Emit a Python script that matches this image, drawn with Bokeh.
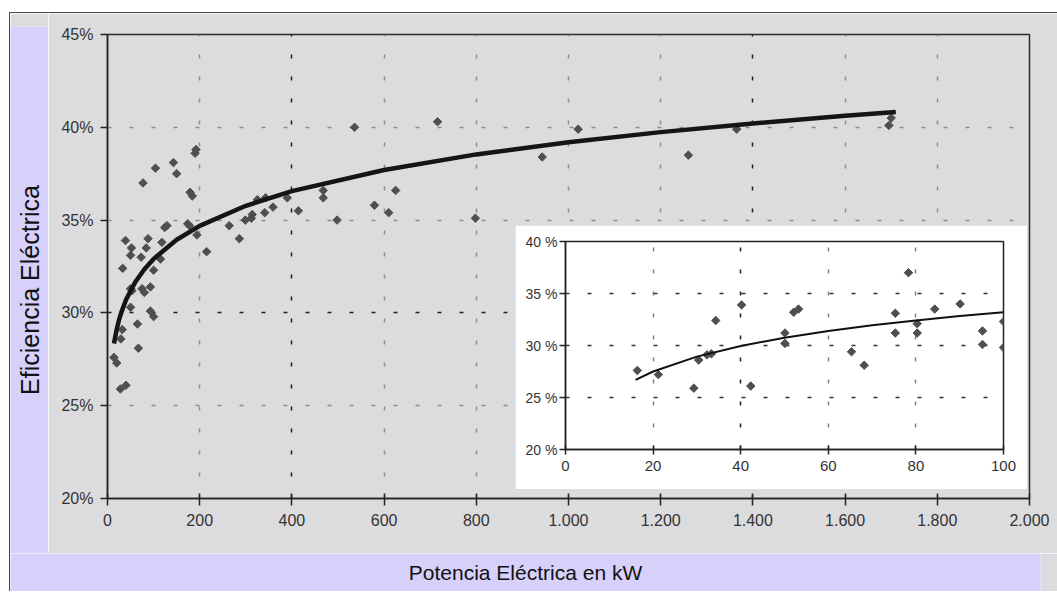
from math import pi
from bokeh.plotting import figure
from bokeh.models import FixedTicker, Grid, Spacer
from bokeh.layouts import column, row
from bokeh.embed import file_html
from bokeh.resources import INLINE
from bokeh.core.properties import value

# ---------------- data ----------------
x_label = "Potencia Eléctrica en kW"
y_label = "Eficiencia Eléctrica"

x_ticks = [0, 200, 400, 600, 800, 1000, 1200, 1400, 1600, 1800, 2000]
x_tick_labels = ["0", "200", "400", "600", "800", "1.000", "1.200", "1.400", "1.600", "1.800", "2.000"]
y_ticks = [20, 25, 30, 35, 40, 45]
y_tick_labels = ["20%", "25%", "30%", "35%", "40%", "45%"]

main_x = [14, 20, 28, 40, 29, 32, 33, 39, 52, 50, 73, 88, 84, 118, 124, 129, 174, 178, 194, 215,
          264, 286, 50, 53, 75, 80, 93, 50, 93, 100, 65, 67, 77, 104, 143, 150, 190, 192, 179, 184,
          115, 100, 299, 312, 314, 325, 343, 341, 359, 390, 414, 468, 468, 498, 536, 579, 610, 625,
          716, 798, 943, 1021, 1260, 1365, 1700, 1695]
main_y = [27.6, 27.3, 25.9, 26.1, 28.6, 29.1, 32.4, 33.9, 33.5, 33.1, 33.0, 34.0, 33.5, 33.8, 34.6,
          34.7, 34.8, 34.7, 34.2, 33.3, 34.7, 34.0, 31.3, 31.2, 31.3, 31.1, 31.4, 30.3, 30.1, 29.8,
          29.4, 28.1, 37.0, 37.8, 38.1, 37.5, 38.6, 38.8, 36.5, 36.3, 32.9, 32.3, 35.0, 35.1, 35.3,
          36.1, 36.2, 35.4, 35.7, 36.2, 35.5, 36.6, 36.2, 35.0, 40.0, 35.8, 35.4, 36.6, 40.3, 35.1,
          38.4, 39.9, 38.5, 39.9, 40.5, 40.1]

trend_x = [14, 20, 25, 30, 40, 60, 80, 100, 150, 200, 300, 400, 600, 800, 1000, 1200, 1400, 1600, 1710]
trend_y = [28.35, 29.12, 29.62, 30.03, 30.70, 31.65, 32.35, 32.91, 33.94, 34.69, 35.77, 36.56, 37.70,
           38.54, 39.19, 39.74, 40.21, 40.62, 40.82]

inset_x_ticks = [0, 20, 40, 60, 80, 100]
inset_x_tick_labels = ["0", "20", "40", "60", "80", "100"]
inset_y_ticks = [20, 25, 30, 35, 40]
inset_y_tick_labels = ["20 %", "25 %", "30 %", "35 %", "40 %"]

inset_x = [16.4, 21.2, 29.3, 30.4, 32.3, 33.3, 34.3, 40.2, 42.3, 50.1, 50.1, 52.1, 53.2, 65.3, 68.2,
           75.3, 75.3, 78.3, 80.3, 80.3, 84.3, 90.1, 95.2, 95.2, 100.0, 100.0]
inset_y = [27.6, 27.2, 25.9, 28.6, 29.1, 29.2, 32.4, 33.9, 26.1, 31.2, 30.2, 33.2, 33.5, 29.4, 28.1,
           33.1, 31.2, 37.0, 32.1, 31.2, 33.5, 34.0, 31.4, 30.1, 32.3, 29.8]

inset_trend_x = [16, 20, 30, 40, 50, 60, 70, 80, 90, 100]
inset_trend_y = [26.70, 27.50, 28.93, 29.95, 30.75, 31.39, 31.94, 32.41, 32.83, 33.20]

# ---------------- style ----------------
GRAY = "#dcdcde"
LAV = "#d7d0fa"
PT = "#4f4f4f"
FONT = "Liberation Sans"
dark_x_grid = [400, 1400]
dark_y_grid = [30]
inset_dark_x_grid = [40]


def style_axis(ax, ticks, labels, size, t_in, t_out, standoff):
    ax.ticker = FixedTicker(ticks=ticks)
    ax.major_label_overrides = dict(zip(ticks, labels))
    ax.minor_tick_line_color = None
    ax.major_tick_in = t_in
    ax.major_tick_out = t_out
    ax.major_tick_line_color = "#222222"
    ax.major_tick_line_width = 1.5
    ax.axis_line_color = "#222222"
    ax.axis_line_width = 1.5
    ax.major_label_text_font = FONT
    ax.major_label_text_font_size = size
    ax.major_label_text_color = "#333333"
    ax.major_label_standoff = standoff


# ---------------- main chart ----------------
main = figure(width=1009, height=540, x_range=(0, 2000), y_range=(20, 45),
              min_border_left=59, min_border_right=28, min_border_top=21, min_border_bottom=55,
              background_fill_color=GRAY, border_fill_color=GRAY,
              outline_line_color="#2a2a2a", outline_line_width=1.5,
              output_backend="svg", toolbar_location=None)
style_axis(main.xaxis[0], x_ticks, x_tick_labels, "16px", 5, 7, 8)
style_axis(main.yaxis[0], y_ticks, y_tick_labels, "16px", 0, 7, 7)

main.xgrid.ticker = FixedTicker(ticks=[t for t in x_ticks if t not in dark_x_grid])
main.ygrid.ticker = FixedTicker(ticks=[t for t in y_ticks if t not in dark_y_grid])
for g in (main.xgrid[0], main.ygrid[0]):
    g.grid_line_color = "#8c8c8c"
    g.grid_line_dash = "4 18"
    g.grid_line_width = 1.5
main.add_layout(Grid(dimension=0, ticker=FixedTicker(ticks=dark_x_grid), grid_line_color="#1e1e1e",
                     grid_line_dash="4 18", grid_line_width=1.5))
main.add_layout(Grid(dimension=1, ticker=FixedTicker(ticks=dark_y_grid), grid_line_color="#1e1e1e",
                     grid_line_dash="4 18", grid_line_width=1.5))

main.scatter(main_x, main_y, marker="square", angle=pi / 4, size=6, color=PT)
main.line(trend_x, trend_y, line_width=4.5, color="#151515")

# ---------------- inset ----------------
inset = figure(width=512, height=264, x_range=(0, 100), y_range=(20, 40),
               min_border_left=50, min_border_right=24, min_border_top=16, min_border_bottom=40,
               background_fill_color="white", border_fill_color="white",
               outline_line_color="#222222", outline_line_width=1.5,
               output_backend="svg", toolbar_location=None)
style_axis(inset.xaxis[0], inset_x_ticks, inset_x_tick_labels, "15px", 4, 5, 6)
style_axis(inset.yaxis[0], inset_y_ticks, inset_y_tick_labels, "14px", 0, 6, 2)
inset.xgrid.ticker = FixedTicker(ticks=[t for t in inset_x_ticks if t not in inset_dark_x_grid])
inset.xgrid.grid_line_color = "#808080"
inset.ygrid.ticker = FixedTicker(ticks=inset_y_ticks)
inset.ygrid.grid_line_color = "#333333"
for g in (inset.xgrid[0], inset.ygrid[0]):
    g.grid_line_dash = "4 18"
    g.grid_line_width = 1.5
inset.add_layout(Grid(dimension=0, ticker=FixedTicker(ticks=inset_dark_x_grid), grid_line_color="#1e1e1e",
                      grid_line_dash="4 18", grid_line_width=1.5))
inset.scatter(inset_x, inset_y, marker="square", angle=pi / 4, size=6, color=PT)
inset.line(inset_trend_x, inset_trend_y, line_width=2, color="#111111")

# ---------------- label bands ----------------
left_band = figure(width=38, height=540, x_range=(0, 1), y_range=(0, 1),
                   x_axis_type=None, y_axis_type=None,
                   min_border_left=0, min_border_right=0, min_border_top=13, min_border_bottom=0,
                   background_fill_color=LAV, border_fill_color=GRAY, outline_line_color=None,
                   output_backend="svg", toolbar_location=None)
left_band.text(x=[0.5], y=[0.5], text=[y_label], angle=pi / 2, text_align="center",
               text_baseline="middle", text_font=value(FONT), text_font_size="25px", text_color="#111111")

bottom_band = figure(width=1047, height=38, x_range=(0, 1), y_range=(0, 1),
                     x_axis_type=None, y_axis_type=None,
                     min_border_left=0, min_border_right=17, min_border_top=0, min_border_bottom=0,
                     background_fill_color=LAV, border_fill_color=GRAY, outline_line_color=None,
                     output_backend="svg", toolbar_location=None)
bottom_band.text(x=[0.5], y=[0.5], text=[x_label], text_align="center", text_baseline="middle",
                 text_font=value(FONT), text_font_size="21px", text_color="#111111")

# each figure in its own wrapper so that frames are not aligned with each other
frame_col = column(
    row(column(left_band), column(main)),
    column(bottom_band),
    column(inset, styles={"position": "absolute", "left": "505px", "top": "212px"}),
    styles={"border-top": "1px solid #444444", "border-left": "1px solid #444444"},
)
root = column(Spacer(width=1057, height=12), row(Spacer(width=9, height=579), frame_col))

open("out.html", "w").write(file_html(root, INLINE))
